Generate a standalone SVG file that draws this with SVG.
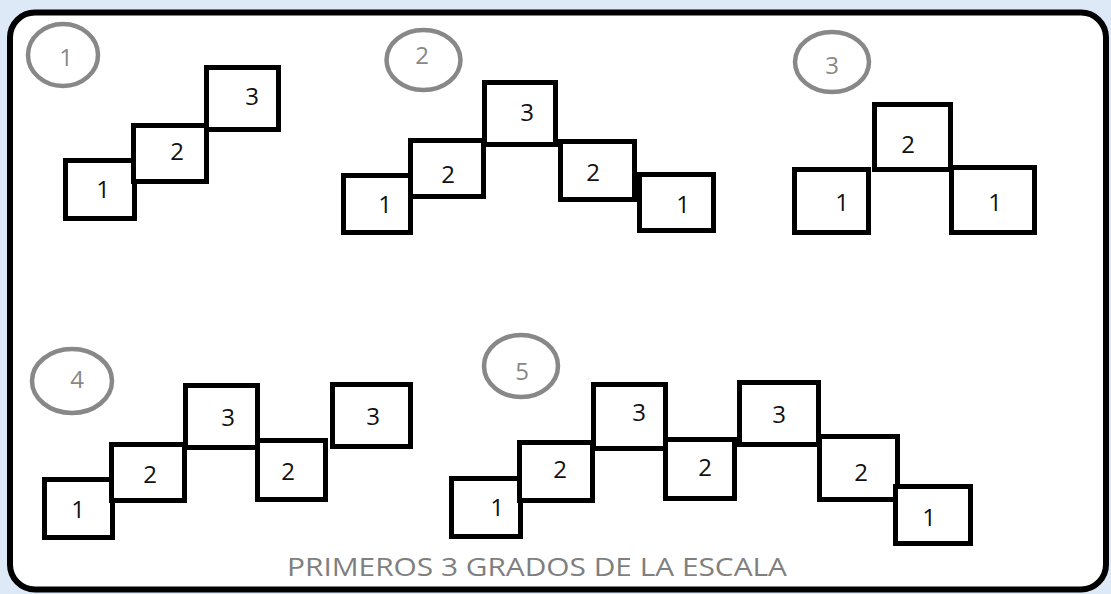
<svg xmlns="http://www.w3.org/2000/svg" width="1111" height="594" viewBox="0 0 1111 594">
<style>
.box{fill:#fff;stroke:#000;stroke-width:5}
.n{font-family:"Open Sans","Liberation Sans",sans-serif;font-size:24px;fill:#111;text-anchor:middle}
.c{fill:none;stroke:#888;stroke-width:4.5}
.cn{font-family:"Open Sans","Liberation Sans",sans-serif;font-size:24px;fill:#888;text-anchor:middle}
.t{font-family:"Open Sans","Liberation Sans",sans-serif;font-size:25px;fill:#7f7f7f}
</style>
<rect x="0" y="0" width="1111" height="594" fill="#dde9f6"/>
<rect id="frame" x="10" y="12.5" width="1096" height="577" rx="25" fill="#fff" stroke="#000" stroke-width="6"/>
<g id="connectors"/>
<g id="fig1">
<ellipse class="c" cx="63" cy="55" rx="35" ry="31"/><text class="cn" x="66" y="66">1</text>
<rect class="box" x="65.5" y="160.5" width="69" height="58"/><text class="n" x="103" y="198">1</text>
<rect class="box" x="133.5" y="125.5" width="73" height="56"/><text class="n" x="177" y="160">2</text>
<rect class="box" x="206.5" y="67.5" width="72" height="62"/><text class="n" x="252" y="105">3</text>
</g>
<g id="fig2">
<ellipse class="c" cx="423.5" cy="60" rx="37" ry="30"/><text class="cn" x="422" y="64">2</text>
<rect class="box" x="343.5" y="175.5" width="67" height="57"/><text class="n" x="385" y="213">1</text>
<rect class="box" x="410.5" y="140.5" width="73" height="56"/><text class="n" x="448" y="183">2</text>
<rect class="box" x="484.5" y="82.5" width="71" height="62"/><text class="n" x="527" y="121">3</text>
<rect class="box" x="560.5" y="141.5" width="74" height="58"/><text class="n" x="593" y="181">2</text>
<rect class="box" x="639.5" y="174.5" width="74" height="56"/><text class="n" x="683" y="213">1</text>
</g>
<g id="fig3">
<ellipse class="c" cx="832" cy="62" rx="37" ry="30"/><text class="cn" x="832" y="74">3</text>
<rect class="box" x="874.5" y="104.5" width="76" height="65"/><text class="n" x="908" y="153">2</text>
<rect class="box" x="794.5" y="169.5" width="74" height="63"/><text class="n" x="842" y="211">1</text>
<rect class="box" x="951.5" y="167.5" width="83" height="65"/><text class="n" x="995" y="211">1</text>
</g>
<g id="fig4">
<ellipse class="c" cx="72" cy="381" rx="40" ry="32"/><text class="cn" x="77" y="388">4</text>
<rect class="box" x="44.5" y="479.5" width="68" height="58"/><text class="n" x="78" y="518">1</text>
<rect class="box" x="111.5" y="444.5" width="73" height="56"/><text class="n" x="150" y="483">2</text>
<rect class="box" x="185.5" y="385.5" width="72" height="62"/><text class="n" x="228" y="426">3</text>
<rect class="box" x="257.5" y="440.5" width="68" height="59"/><text class="n" x="288" y="480">2</text>
<rect class="box" x="332.5" y="384.5" width="78" height="62"/><text class="n" x="373" y="425">3</text>
</g>
<g id="fig5">
<ellipse class="c" cx="521" cy="366" rx="37" ry="31"/><text class="cn" x="522" y="380">5</text>
<rect class="box" x="451.5" y="478.5" width="69" height="58"/><text class="n" x="497" y="516">1</text>
<rect class="box" x="519.5" y="442.5" width="73" height="58"/><text class="n" x="560" y="478">2</text>
<rect class="box" x="593.5" y="384.5" width="72" height="64"/><text class="n" x="639" y="421">3</text>
<rect class="box" x="665.5" y="439.5" width="69" height="59"/><text class="n" x="705" y="476">2</text>
<rect class="box" x="739.5" y="382.5" width="79" height="62"/><text class="n" x="779" y="423">3</text>
<rect class="box" x="819.5" y="436.5" width="78" height="63"/><text class="n" x="861" y="481">2</text>
<rect class="box" x="895.5" y="486.5" width="75" height="57"/><text class="n" x="929" y="526">1</text>
</g>
<text class="t" x="287" y="576" textLength="500" lengthAdjust="spacingAndGlyphs">PRIMEROS 3 GRADOS DE LA ESCALA</text>
</svg>
